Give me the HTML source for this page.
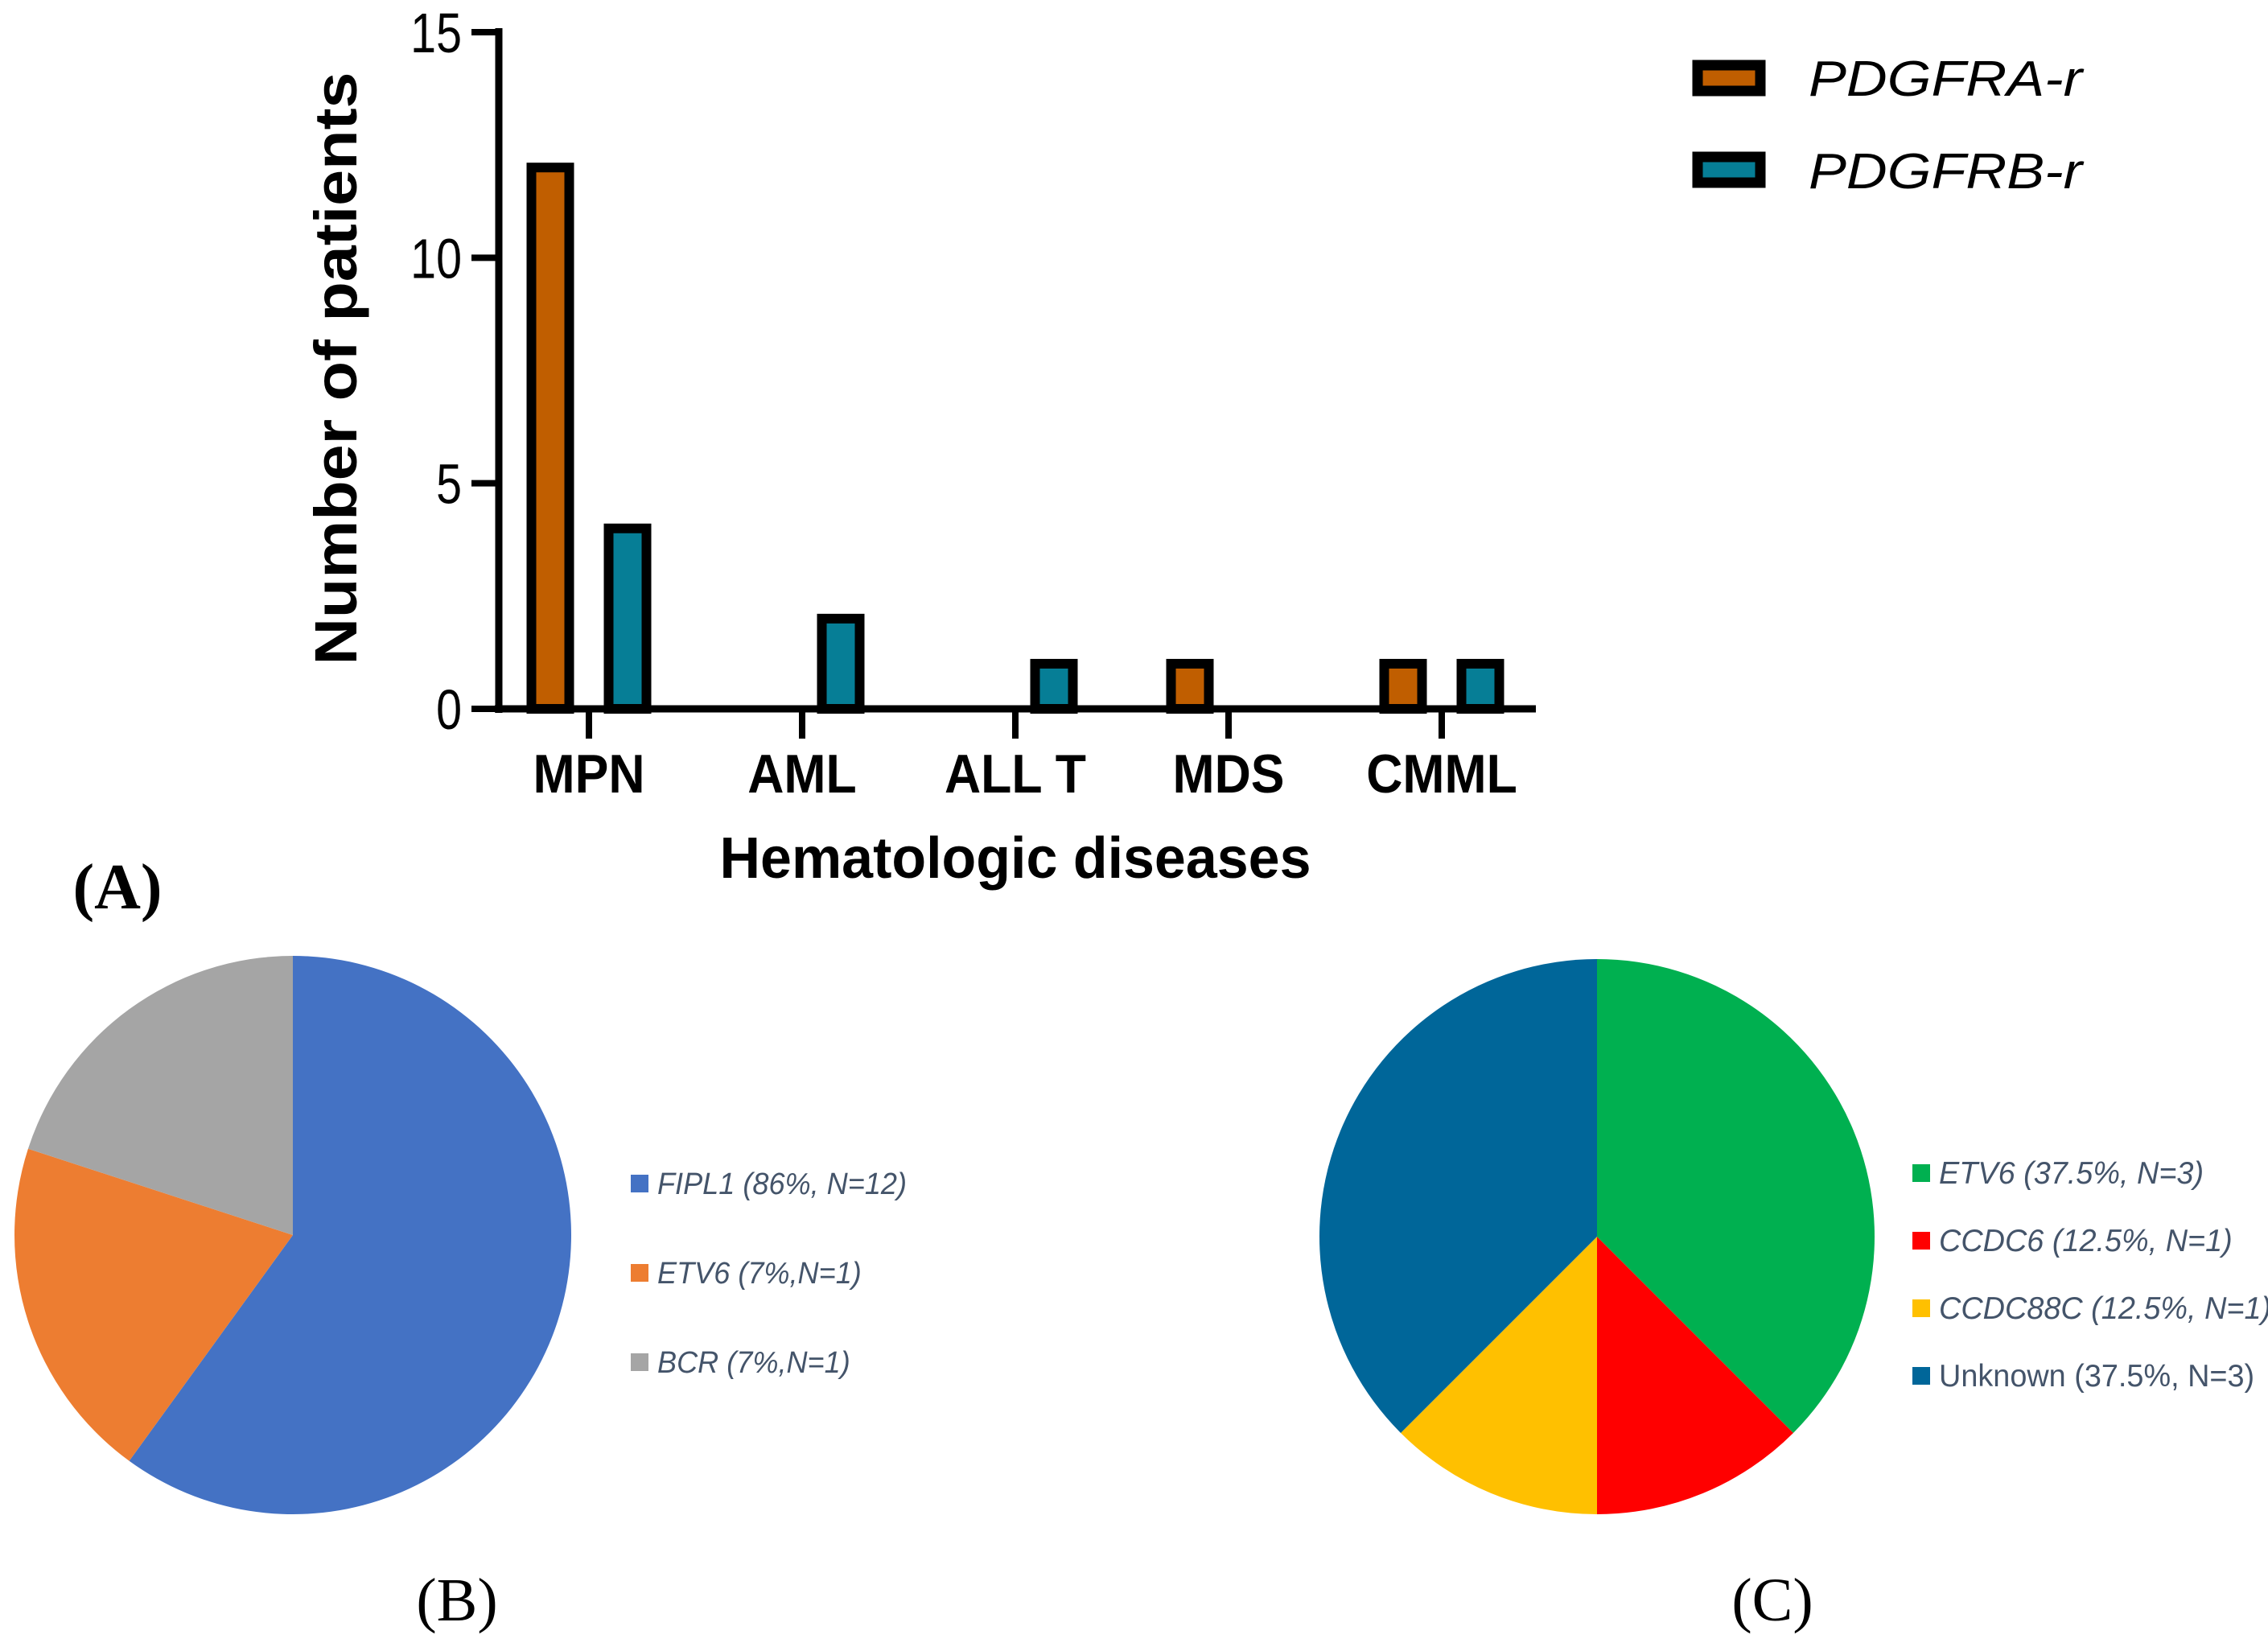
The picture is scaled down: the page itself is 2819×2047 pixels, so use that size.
<!DOCTYPE html>
<html><head><meta charset="utf-8">
<style>
html,body{margin:0;padding:0;background:#fff;overflow:hidden;}
svg{display:block;}
</style></head>
<body>
<svg id="fig" width="2819" height="2047" viewBox="0 0 2819 2047" xmlns="http://www.w3.org/2000/svg">
  <g id="barChart"></g>
  <g id="legendA">
    <rect x="2110" y="81" width="78" height="32" fill="#C05E00" stroke="#000" stroke-width="13"/>
    <text x="2248" y="119" font-family="Liberation Sans, sans-serif" font-style="italic" font-size="62" textLength="340" lengthAdjust="spacingAndGlyphs">PDGFRA-r</text>
    <rect x="2110" y="195" width="78" height="32" fill="#067E96" stroke="#000" stroke-width="13"/>
    <text x="2248" y="234" font-family="Liberation Sans, sans-serif" font-style="italic" font-size="62" textLength="340" lengthAdjust="spacingAndGlyphs">PDGFRB-r</text>
  </g>
  <text x="146" y="1129" text-anchor="middle" font-family="Liberation Serif, serif" font-weight="bold" font-size="80">(A)</text>
  <g id="pieB"></g>
  <g id="pieC"></g>
  <text x="568" y="2014" text-anchor="middle" font-family="Liberation Serif, serif" font-size="76">(B)</text>
  <text x="2203" y="2014" text-anchor="middle" font-family="Liberation Serif, serif" font-size="76">(C)</text>
</svg>
<script>
// ---- Bar chart data ----
const categories = ["MPN", "AML", "ALL T", "MDS", "CMML"];
const pdgfraValues = [12, 0, 0, 1, 1];
const pdgfrbValues = [4, 2, 1, 0, 1];
const yTicks = [0, 5, 10, 15];
// ---- Pie B data ----
const pieBLabels = ["FIPL1 (86%, N=12)", "ETV6 (7%,N=1)", "BCR (7%,N=1)"];
const pieBValues = [60, 20, 20];
// ---- Pie C data ----
const pieCLabels = ["ETV6 (37.5%, N=3)", "CCDC6 (12.5%, N=1)", "CCDC88C (12.5%, N=1)", "Unknown (37.5%, N=3)"];
const pieCValues = [3, 1, 1, 3];

const NS = "http://www.w3.org/2000/svg";
function mk(tag, attrs, parent){
  const e = document.createElementNS(NS, tag);
  for (const k in attrs) e.setAttribute(k, attrs[k]);
  parent.appendChild(e);
  return e;
}
const X0 = 620, X1 = 1909, Y0 = 881, Ytop = 40;
const yMax = 15;
function yScale(v){ return Y0 - (Y0 - Ytop) * v / yMax; }
const catStart = 732, catStep = 265;
function xScale(i){ return catStart + i * catStep; }

const g = document.getElementById('barChart');
const barW = 47, offs = 48;
categories.forEach((c, i) => {
  [[pdgfraValues, -offs, "#C05E00", "pdgfra"], [pdgfrbValues, offs, "#067E96", "pdgfrb"]].forEach(([arr, o, col, nm]) => {
    const v = arr[i];
    if (v <= 0) return;
    const cx = xScale(i) + o;
    const r = mk('rect', {x: cx - barW/2, y: yScale(v), width: barW, height: Y0 - yScale(v), fill: col, stroke: "#000", "stroke-width": 12}, g);
    
    
  });
});
const ya = mk('line', {x1: X0, y1: Ytop - 5, x2: X0, y2: Y0 + 5, stroke: "#000", "stroke-width": 9}, g);


const xa = mk('line', {x1: X0 - 5, y1: Y0, x2: X1, y2: Y0, stroke: "#000", "stroke-width": 9}, g);


yTicks.forEach(t => {
  const y = yScale(t);
  const tl = mk('line', {x1: 586, y1: y, x2: X0, y2: y, stroke: "#000", "stroke-width": 8}, g);
  
  
  const tx = mk('text', {x: 574, y: y + 25, "text-anchor": "end", "font-family": "Liberation Sans, sans-serif", "font-size": 70}, g);
  tx.textContent = t;
  
  
  tx.setAttribute('textLength', tx.getComputedTextLength() * 0.82);
  tx.setAttribute('lengthAdjust', 'spacingAndGlyphs');
});
categories.forEach((c, i) => {
  const x = xScale(i);
  const tl = mk('line', {x1: x, y1: Y0, x2: x, y2: 918, stroke: "#000", "stroke-width": 8}, g);
  
  
  const tx = mk('text', {x: x, y: 985, "text-anchor": "middle", "font-family": "Liberation Sans, sans-serif", "font-weight": "bold", "font-size": 68}, g);
  tx.textContent = c;
  
  
  const w = tx.getComputedTextLength();
  tx.setAttribute('textLength', w * 0.92);
  tx.setAttribute('lengthAdjust', 'spacingAndGlyphs');
});
const xt = mk('text', {x: 1262, y: 1091, "text-anchor": "middle", "font-family": "Liberation Sans, sans-serif", "font-weight": "bold", "font-size": 72, textLength: 735, lengthAdjust: "spacingAndGlyphs"}, g);
xt.textContent = "Hematologic diseases";


const yt = mk('text', {x: 0, y: 0, "text-anchor": "middle", "font-family": "Liberation Sans, sans-serif", "font-weight": "bold", "font-size": 74, textLength: 737, lengthAdjust: "spacingAndGlyphs", transform: "translate(443,458) rotate(-90)"}, g);
yt.textContent = "Number of patients";



function drawPie(gid, cx, cy, rx, ry, values, colors, labels, lx, ly0, lstep, fsize, squeeze, italicFlags, prefix){
  const pg = document.getElementById(gid);
  const total = values.reduce((a, b) => a + b, 0);
  let a0 = 0;
  values.forEach((v, i) => {
    const a1 = a0 + v / total * 2 * Math.PI;
    const p0 = [cx + rx * Math.sin(a0), cy - ry * Math.cos(a0)];
    const p1 = [cx + rx * Math.sin(a1), cy - ry * Math.cos(a1)];
    const large = (a1 - a0) > Math.PI ? 1 : 0;
    const path = mk('path', {d: `M${cx},${cy} L${p0[0]},${p0[1]} A${rx},${ry} 0 ${large} 1 ${p1[0]},${p1[1]} Z`, fill: colors[i]}, pg);
    
    
    a0 = a1;
    const y = ly0 + i * lstep;
    const sq = mk('rect', {x: lx, y: y - 11, width: 22, height: 22, fill: colors[i]}, pg);
    
    
    const t = mk('text', {x: lx + 33, y: y + 13, "font-family": "Liberation Sans, sans-serif", "font-size": fsize, fill: "#44546A"}, pg);
    if (italicFlags[i]) t.setAttribute('font-style', 'italic');
    t.textContent = labels[i];
    
    
    t.setAttribute('textLength', t.getComputedTextLength() * squeeze);
    t.setAttribute('lengthAdjust', 'spacingAndGlyphs');
  });
}
drawPie('pieB', 364, 1535, 346, 347, pieBValues, ["#4472C4", "#ED7D31", "#A5A5A5"], pieBLabels, 784, 1471, 111, 38, 0.95, [true, true, true], 'pie-b');
drawPie('pieC', 1985, 1537, 345, 345, pieCValues, ["#00B050", "#FF0000", "#FFC000", "#006699"], pieCLabels, 2377, 1458, 84, 39, 0.97, [true, true, true, false], 'pie-c');
</script>
</body></html>
